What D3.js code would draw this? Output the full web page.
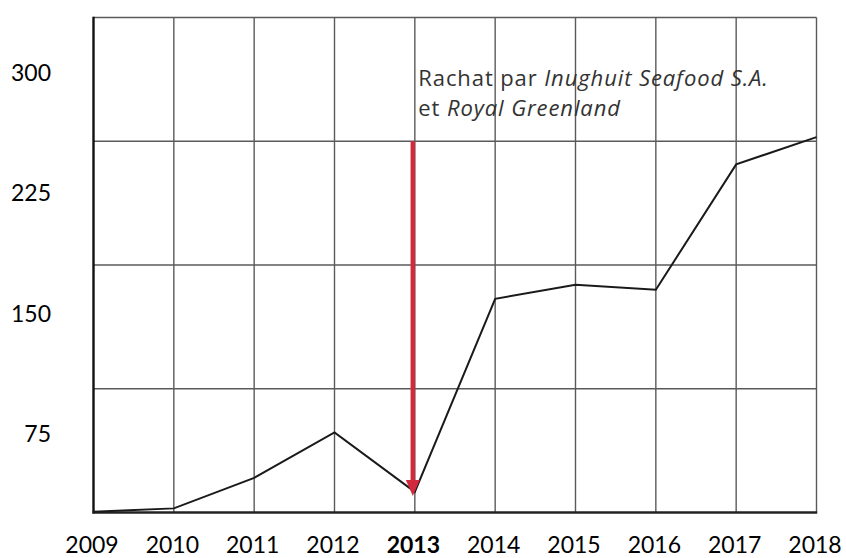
<!DOCTYPE html>
<html>
<head>
<meta charset="utf-8">
<script src="https://cdn.jsdelivr.net/npm/d3@7"></script>
<style>
  html, body { margin: 0; padding: 0; background: #fff; }
  svg { display: block; }
</style>
</head>
<body>
<svg id="chart" width="846" height="558"></svg>
<script>
// Years on the horizontal axis
const years = [2009, 2010, 2011, 2012, 2013, 2014, 2015, 2016, 2017, 2018];
// Yearly values of the series
const values = [0.5, 2.5, 21, 48.5, 12.5, 129.5, 138, 135, 211, 227.5];
// Horizontal grid levels
const gridLevels = [0, 75, 150, 225, 300];
// Labels printed along the left side
const yLabels = [75, 150, 225, 300];
// Year highlighted in bold, and the arrow pointing at it
const highlightYear = 2013;
const arrowFrom = 225;
const arrowTo = 10;
// Annotation pieces: [text, italic?]
const noteLine1 = [["Rachat par ", false], ["Inughuit Seafood S.A.", true]];
const noteLine2 = [["et ", false], ["Royal Greenland", true]];

const svg = d3.select("#chart");

const x = d3.scaleLinear().domain([2009, 2018]).range([93.5, 816.5]);
const y = d3.scaleLinear().domain([0, 300]).range([512.5, 17.5]);
// Label placement sits between the grid lines
const yLab = d3.scaleLinear().domain([75, 300]).range([434, 73]);

// Grid
const grid = svg.append("g").attr("stroke", "#5a5a5a").attr("stroke-width", 1.4);
grid.selectAll("line.v").data(years.slice(1)).join("line")
  .attr("x1", d => x(d)).attr("x2", d => x(d))
  .attr("y1", y(300)).attr("y2", y(0));
grid.selectAll("line.h").data(gridLevels.slice(1)).join("line")
  .attr("x1", x(2009)).attr("x2", x(2018))
  .attr("y1", d => y(d)).attr("y2", d => y(d));

// Left and bottom frame
svg.append("line").attr("x1", x(2009)).attr("x2", x(2009))
  .attr("y1", y(300) - 0.7).attr("y2", y(0) + 1)
  .attr("stroke", "#111").attr("stroke-width", 2.4);
svg.append("line").attr("x1", x(2009) - 1).attr("x2", x(2018) + 0.7)
  .attr("y1", y(0)).attr("y2", y(0))
  .attr("stroke", "#222").attr("stroke-width", 2.4);

// Series line
const line = d3.line().x((d, i) => x(years[i])).y(d => y(d));
svg.append("path").datum(values)
  .attr("d", line)
  .attr("fill", "none")
  .attr("stroke", "#1a1a1a")
  .attr("stroke-width", 2)
  .attr("stroke-linejoin", "miter");

// Arrow toward the highlighted year
const ax = x(highlightYear) - 2;
const tipY = y(arrowTo);
svg.append("line")
  .attr("x1", ax).attr("x2", ax)
  .attr("y1", y(arrowFrom)).attr("y2", tipY - 12)
  .attr("stroke", "#d22a3c").attr("stroke-width", 4.5);
svg.append("path")
  .attr("d", `M${ax - 7},${tipY - 16} L${ax + 7},${tipY - 16} L${ax},${tipY} Z`)
  .attr("fill", "#d22a3c");

// Annotation
function note(parts, yPos) {
  const t = svg.append("text")
    .attr("x", x(highlightYear) + 3.5)
    .attr("y", yPos)
    .style("font-family", "'Open Sans', sans-serif")
    .style("font-size", "22px")
    .style("letter-spacing", "0.9px")
    .attr("fill", "#333");
  parts.forEach(([s, it]) => {
    t.append("tspan").style("font-style", it ? "italic" : "normal").text(s);
  });
}
note(noteLine1, 86);
note(noteLine2, 116);

// Y labels
const yAxis = d3.axisLeft(yLab).tickValues(yLabels).tickSize(0).tickPadding(0);
svg.append("g").attr("transform", "translate(51,0)").call(yAxis)
  .call(g => g.select(".domain").remove())
  .call(g => g.selectAll("text")
    .style("font-family", "Lato, sans-serif")
    .style("font-size", "23px").attr("fill", "#000"));

// Year labels
const xAxis = d3.axisBottom(x).tickValues(years).tickFormat(d3.format("d")).tickSize(0).tickPadding(0);
svg.append("g").attr("transform", "translate(-2,537)").call(xAxis)
  .call(g => g.select(".domain").remove())
  .call(g => g.selectAll("text")
    .style("font-family", "Lato, sans-serif")
    .style("font-size", "23px").attr("fill", "#000")
    .style("font-weight", d => d === highlightYear ? "bold" : "normal"));
</script>
</body>
</html>
